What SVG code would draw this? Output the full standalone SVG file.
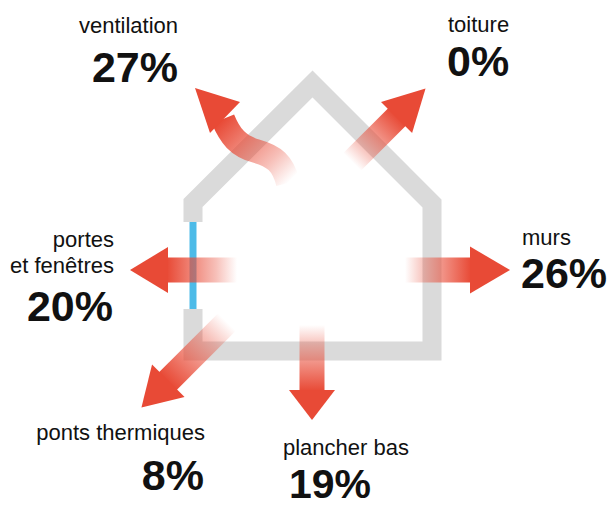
<svg xmlns="http://www.w3.org/2000/svg" width="615" height="507" viewBox="0 0 615 507">
<style>
.lbl{font-family:"Liberation Sans",Arial,sans-serif;font-size:22px;fill:#111}
.pct{font-family:"Liberation Sans",Arial,sans-serif;font-size:43px;font-weight:bold;fill:#111}
.end{text-anchor:end}
.wall{fill:none;stroke:#dadada;stroke-width:19;stroke-linejoin:miter;stroke-linecap:butt}
.head{fill:#e84a36}
.shaft{fill:url(#fade)}
</style>
<defs>
<linearGradient id="fade" x1="0" y1="0" x2="1" y2="0">
<stop offset="0" stop-color="#e84a36" stop-opacity="0"/>
<stop offset="0.3" stop-color="#e84a36" stop-opacity="0.35"/>
<stop offset="1" stop-color="#e84a36" stop-opacity="1"/>
</linearGradient>
<linearGradient id="fadeV" gradientUnits="userSpaceOnUse" x1="289" y1="182" x2="224" y2="118">
<stop offset="0" stop-color="#e84a36" stop-opacity="0"/>
<stop offset="0.3" stop-color="#e84a36" stop-opacity="0.35"/>
<stop offset="1" stop-color="#e84a36" stop-opacity="1"/>
</linearGradient>
</defs>
<rect width="615" height="507" fill="#ffffff"/>
<g id="house">
<path class="wall" d="M193 222 L193 203 L312.5 84 L432 203.5 L432 351 L193 351 L193 309"/>
<line x1="193" y1="222" x2="193" y2="309" stroke="#4dbbe8" stroke-width="7"/>
</g>
<g id="connectors">
<g id="arrow-ventilation">
<path d="M223 119 C230 136 238 146 256 151 S283 163 288 183" fill="none" stroke="url(#fadeV)" stroke-width="24"/>
<polygon class="head" points="195,88 240,102 210,133"/>
</g>
<g id="arrow-toiture" transform="translate(352,162) rotate(-45)">
<rect class="shaft" x="0" y="-12.5" width="64" height="25"/>
<polygon class="head" points="63,-22 104,0 63,22"/>
</g>
<g id="arrow-murs" transform="translate(405,270)">
<rect class="shaft" x="0" y="-12.5" width="66" height="25"/>
<polygon class="head" points="65,-23.5 105,0 65,23.5"/>
</g>
<g id="arrow-portes" transform="translate(237,270) rotate(180)">
<rect class="shaft" x="0" y="-12.5" width="70" height="25"/>
<polygon class="head" points="69,-23 107,0 69,23"/>
</g>
<g id="arrow-ponts" transform="translate(227,322) rotate(135)">
<rect class="shaft" x="0" y="-12.5" width="84" height="25"/>
<polygon class="head" points="83,-23 121,0 83,23"/>
</g>
<g id="arrow-plancher" transform="translate(312,325) rotate(90)">
<rect class="shaft" x="0" y="-12.5" width="66" height="25"/>
<polygon class="head" points="65,-23 95,0 65,23"/>
</g>
</g>
<g id="label-ventilation">
<text class="lbl end" x="178" y="33">ventilation</text>
<text class="pct end" x="178" y="82">27%</text>
</g>
<g id="label-toiture">
<text class="lbl" x="448" y="32">toiture</text>
<text class="pct" x="447" y="76">0%</text>
</g>
<g id="label-murs">
<text class="lbl" x="522" y="245">murs</text>
<text class="pct" x="521" y="288">26%</text>
</g>
<g id="label-portes">
<text class="lbl end" x="114" y="247">portes</text>
<text class="lbl end" x="114" y="273">et fenêtres</text>
<text class="pct end" x="113" y="321">20%</text>
</g>
<g id="label-ponts">
<text class="lbl end" x="205" y="440">ponts thermiques</text>
<text class="pct end" x="204" y="490">8%</text>
</g>
<g id="label-plancher">
<text class="lbl" x="283" y="455">plancher bas</text>
<text class="pct" x="289" y="498" style="font-size:41px">19%</text>
</g>
</svg>
